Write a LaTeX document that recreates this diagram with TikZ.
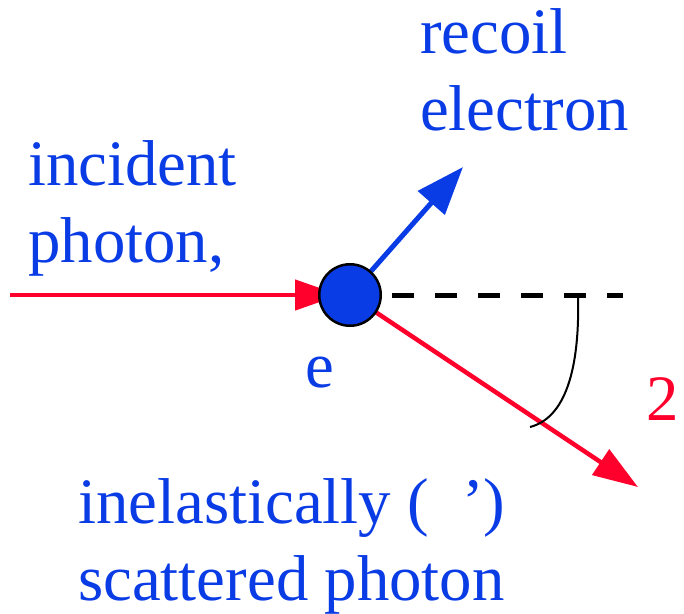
\documentclass[tikz,border=0pt]{standalone}
\usepackage{fontspec}
\setmainfont{Liberation Serif}
\usetikzlibrary{arrows.meta, backgrounds}
\definecolor{eblue}{RGB}{10,60,230}
\definecolor{pred}{RGB}{255,0,45}

\begin{document}
\begin{tikzpicture}[x=1pt, y=-1pt,
    lbl/.style={text=eblue, anchor=base west, inner sep=0pt, align=left, font=\fontsize{64.8}{77}\selectfont},
    photon/.style={draw=pred, line width=4.5pt, -{Triangle[length=45pt, width=30pt]}},
    recoil/.style={draw=eblue, line width=5pt, -{Triangle[length=48pt, width=35pt]}},
    axisline/.style={draw=black, line width=5pt, dash pattern=on 22pt off 21pt}]
  \useasboundingbox (0,0) rectangle (684,613);

  % electron and end points
  \node[circle, draw=black, line width=2.5pt, fill=eblue, minimum size=61.5pt, inner sep=0pt] (e) at (350,295) {};
  \coordinate (src) at (10,295);
  \coordinate (etip) at (463,167);
  \coordinate (stip) at (638,487);
  \coordinate (axis) at (623,295);
  \coordinate (arcstart) at (578,295);
  \coordinate (arcend) at (530,427);

  \begin{pgfonlayer}{background}
    \draw[photon, shorten >=10pt] (src) -- (e.center);
    \draw[recoil] (e.center) -- (etip);
    \draw[photon] (e.center) -- (stip);
  \end{pgfonlayer}
  \draw[axisline, shorten <=10pt] (e.east) -- (axis);
  \draw[line width=2pt] (arcstart) .. controls (580,370) and (565,418) .. (arcend);

  % labels (base = last line)
  \node[lbl] (recoillbl) at (420,130) {recoil\\electron};
  \node[lbl] (inclbl) at (28,262) {incident\\photon,};
  \node[lbl] (elbl) at (305,387) {e};
  \node[lbl, text=pred] (anglbl) at (646,420) {2};
  \node[lbl] (scatlbl) at (78,600) {inelastically (\hspace{33pt}’)\\scattered photon};
\end{tikzpicture}
\end{document}
